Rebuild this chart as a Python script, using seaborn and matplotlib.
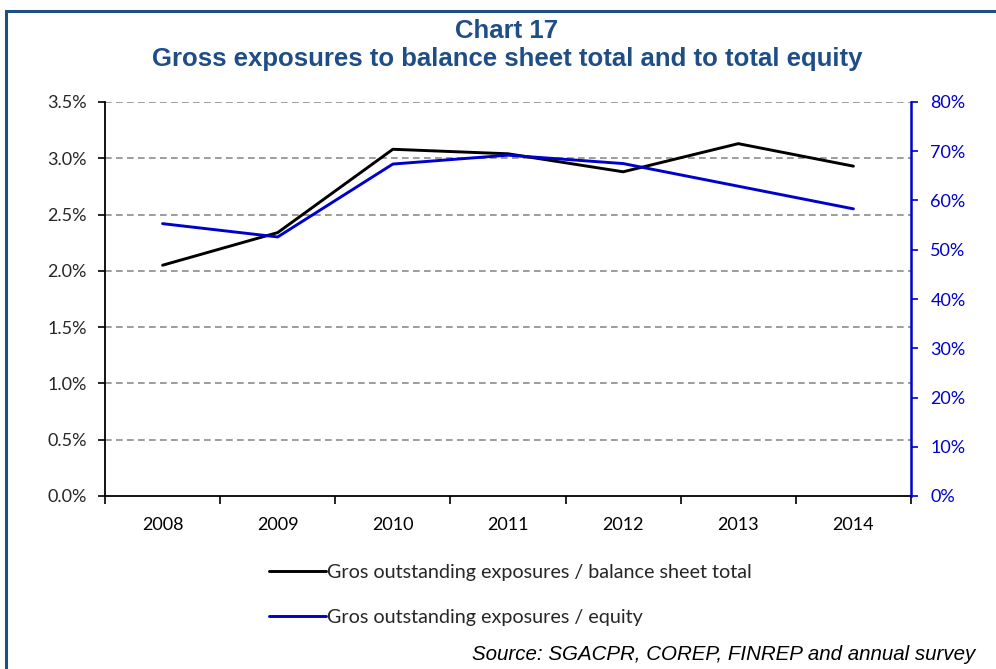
import matplotlib
matplotlib.use("Agg")
import matplotlib.pyplot as plt
import seaborn as sns
import pandas as pd
import numpy as np
from matplotlib.patches import Rectangle
from matplotlib.ticker import FuncFormatter, FixedLocator

years = ["2008", "2009", "2010", "2011", "2012", "2013", "2014"]
balance_sheet = [2.05, 2.34, 3.08, 3.04, 2.88, 3.13, 2.93]   # % of balance sheet total
equity = [55.3, 52.6, 67.4, 69.2, 67.5, 62.9, 58.3]           # % of equity
left_ticks = [0.0, 0.5, 1.0, 1.5, 2.0, 2.5, 3.0, 3.5]
right_ticks = [0, 10, 20, 30, 40, 50, 60, 70, 80]
label_bs = "Gros outstanding exposures / balance sheet total"
label_eq = "Gros outstanding exposures / equity"
title1 = "Chart 17"
title2 = "Gross exposures to balance sheet total and to total equity"
source = "Source: SGACPR, COREP, FINREP and annual survey"

sns.set_style("white")
plt.rcParams['font.family'] = ['Lato', 'DejaVu Sans']

W, H = 996, 669
fig = plt.figure(figsize=(W / 100, H / 100), dpi=100)

navy = "#1F4E86"
blue = "#0000CC"

# frame border
fig.patches.append(Rectangle((5.5 / W, -0.1), 1.2, 1 - 10.5 / H + 0.1, transform=fig.transFigure,
                             fill=False, edgecolor=navy, linewidth=2.2, zorder=0))

ax = fig.add_axes([105 / W, 1 - 496 / H, (911 - 105) / W, (496 - 102) / H])
ax2 = ax.twinx()

df = pd.DataFrame({"x": np.arange(len(years)), "bs": balance_sheet, "eq": equity})

sns.lineplot(data=df, x="x", y="bs", ax=ax, color="black", linewidth=2.1, label=label_bs, legend=False)
sns.lineplot(data=df, x="x", y="eq", ax=ax2, color=blue, linewidth=2.1, label=label_eq, legend=False)

ax.set_xlim(-0.5, len(years) - 0.5)
ax.set_ylim(0, 3.5)
ax2.set_ylim(0, 80)

# grid
for t in left_ticks[1:]:
    ax.axhline(t, color="#8C8C8C", linestyle=(0, (4, 2.6)), linewidth=1.2, zorder=0)

ax.set_yticks(left_ticks)
ax.yaxis.set_major_formatter(FuncFormatter(lambda v, p: f"{v:.1f}%"))
ax2.set_yticks(right_ticks)
ax2.yaxis.set_major_formatter(FuncFormatter(lambda v, p: f"{v:.0f}%"))

ax.set_xticks(np.arange(len(years)))
ax.set_xticklabels(years)
ax.xaxis.set_minor_locator(FixedLocator(np.arange(-0.5, len(years), 1.0)))
ax.tick_params(axis="x", which="major", length=0, pad=15, labelsize=13, colors="black")
ax.tick_params(axis="x", which="minor", length=6, width=1.2, color="black", direction="out", bottom=True)
ax.tick_params(axis="y", length=5, width=1.2, color="black", direction="out", left=True, labelsize=13, pad=8)
ax2.tick_params(axis="y", length=5, width=1.2, color=blue, labelcolor=blue, direction="out", right=True,
                labelsize=13, pad=9)

ax.set_xlabel("")
ax.set_ylabel("")
ax2.set_xlabel("")
ax2.set_ylabel("")

for a in (ax, ax2):
    a.spines["top"].set_visible(False)
ax.spines["right"].set_visible(False)
ax.spines["left"].set_color("black")
ax.spines["left"].set_linewidth(1.3)
ax.spines["bottom"].set_color("black")
ax.spines["bottom"].set_linewidth(1.3)
ax2.spines["left"].set_visible(False)
ax2.spines["bottom"].set_visible(False)
ax2.spines["right"].set_color(blue)
ax2.spines["right"].set_linewidth(1.8)

# titles
fig.text(507 / W, 1 - 31 / H, title1, ha="center", va="center", fontsize=18.5, fontweight="bold",
         color=navy, family=["Liberation Sans", "DejaVu Sans"])
fig.text(507 / W, 1 - 59 / H, title2, ha="center", va="center", fontsize=18.5, fontweight="bold",
         color=navy, family=["Liberation Sans", "DejaVu Sans"])

# legend
h1, l1 = ax.get_legend_handles_labels()
h2, l2 = ax2.get_legend_handles_labels()
fig.legend(h1 + h2, l1 + l2, loc="center", bbox_to_anchor=(510 / W, 1 - 595 / H), frameon=False,
           fontsize=14.2, handlelength=2.9, handletextpad=0.05, labelspacing=1.38, ncol=1)

fig.text(472 / W, 1 - 654 / H, source, ha="left", va="center", fontsize=14.8, style="italic",
         color="black", family=["Liberation Sans", "DejaVu Sans"])

fig.savefig("out.png", dpi=100)
